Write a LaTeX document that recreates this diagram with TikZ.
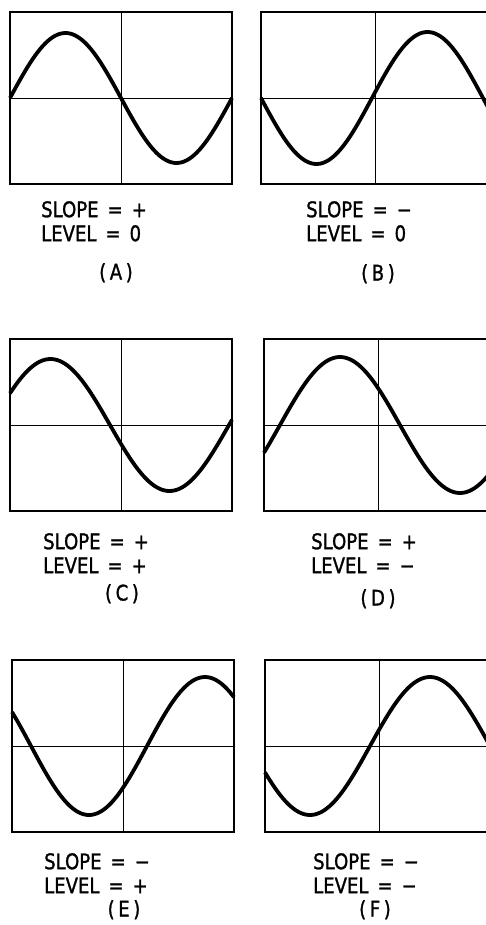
\documentclass[tikz,border=0pt]{standalone}
\usepackage{fontspec}
\setmainfont{DejaVu Sans}[FakeStretch=0.84,FakeBold=1.2]
\usepackage{tikz}
\usetikzlibrary{positioning}
\newcommand{\gap}{\hspace{9pt}}

\begin{document}
\begin{tikzpicture}[x=1pt,y=1pt,
  font=\fontsize{21.5}{24}\selectfont,
  frame/.style={draw,line width=2.8pt,minimum width=222pt,minimum height=172pt,inner sep=0pt,outer sep=0pt},
  cross/.style={line width=0.8pt},
  trace/.style={line width=3.8pt,line join=round},
  lbl/.style={inner sep=0pt,align=left},
  tag/.style={inner sep=0pt}
]
\useasboundingbox (0,0) rectangle (486,-925);
% row 1
\node[frame] (boxA) at (121,-98) {};
\node[frame,minimum width=228pt,right=29pt of boxA] (boxB) {};
% row 2
\node[frame,below=155pt of boxA] (boxC) {};
\node[frame,minimum width=228pt,right=32pt of boxC] (boxD) {};
% row 3
\node[frame,below=149pt of boxC,xshift=2pt] (boxE) {};
\node[frame,minimum width=228pt,right=31pt of boxE] (boxF) {};

\draw[cross] (boxA.north) -- (boxA.south); \draw[cross] (boxA.west) -- (boxA.east);
\draw[cross] (boxB.north) -- (boxB.south); \draw[cross] (boxB.west) -- (boxB.east);
\draw[cross] (boxC.north) -- (boxC.south); \draw[cross] (boxC.west) -- (boxC.east);
\draw[cross] (boxD.north) -- (boxD.south); \draw[cross] (boxD.west) -- (boxD.east);
\draw[cross] (boxE.north) -- (boxE.south); \draw[cross] (boxE.west) -- (boxE.east);
\draw[cross] (boxF.north) -- (boxF.south); \draw[cross] (boxF.west) -- (boxF.east);

% traces
\draw[trace,shift={(boxA.center)}] plot[domain=-111:111,samples=90] (\x,{65*sin((\x+111)/222*360)});
\draw[trace,shift={(boxB.center)}] plot[domain=-114:114,samples=90] (\x,{66*sin((\x+3)/222*360)});
\draw[trace,shift={(boxC.center)}] plot[domain=-111:111,samples=90] (\x,{66*sin((\x+130)/238*360)});
\draw[trace,shift={(boxD.center)}] plot[domain=-114:114,samples=90] (\x,{68*sin((\x+98)/240*360)});
\draw[trace,shift={(boxE.center)}] plot[domain=-111:111,samples=90] (\x,{69*sin((\x-24)/232*360)});
\draw[trace,shift={(boxF.center)}] plot[domain=-114:114,samples=90] (\x,{69*sin((\x+9)/240*360)});

% settings
\node[lbl,below right=17pt and 31pt of boxA.south west] (labA) {SLOPE\gap=\gap+\\LEVEL\gap=\gap0};
\node[lbl,below right=17pt and 45pt of boxB.south west] (labB) {SLOPE\gap=\gap−\\LEVEL\gap=\gap0};
\node[lbl,below right=22pt and 33pt of boxC.south west] (labC) {SLOPE\gap=\gap+\\LEVEL\gap=\gap+};
\node[lbl,below right=22pt and 47pt of boxD.south west] (labD) {SLOPE\gap=\gap+\\LEVEL\gap=\gap−};
\node[lbl,below right=21pt and 32pt of boxE.south west] (labE) {SLOPE\gap=\gap−\\LEVEL\gap=\gap+};
\node[lbl,below right=21pt and 48pt of boxF.south west] (labF) {SLOPE\gap=\gap−\\LEVEL\gap=\gap−};

\node[tag,below=79pt of boxA.south,xshift=-5pt] (capA) {(\,A\,)};
\node[tag,below=80pt of boxB.south,xshift=3pt] (capB) {(\,B\,)};
\node[tag,below=73pt of boxC.south,xshift=1pt] (capC) {(\,C\,)};
\node[tag,below=78pt of boxD.south] (capD) {(\,D\,)};
\node[tag,below=68pt of boxE.south,xshift=1pt] (capE) {(\,E\,)};
\node[tag,below=68pt of boxF.south,xshift=-4pt] (capF) {(\,F\,)};
\end{tikzpicture}
\end{document}
